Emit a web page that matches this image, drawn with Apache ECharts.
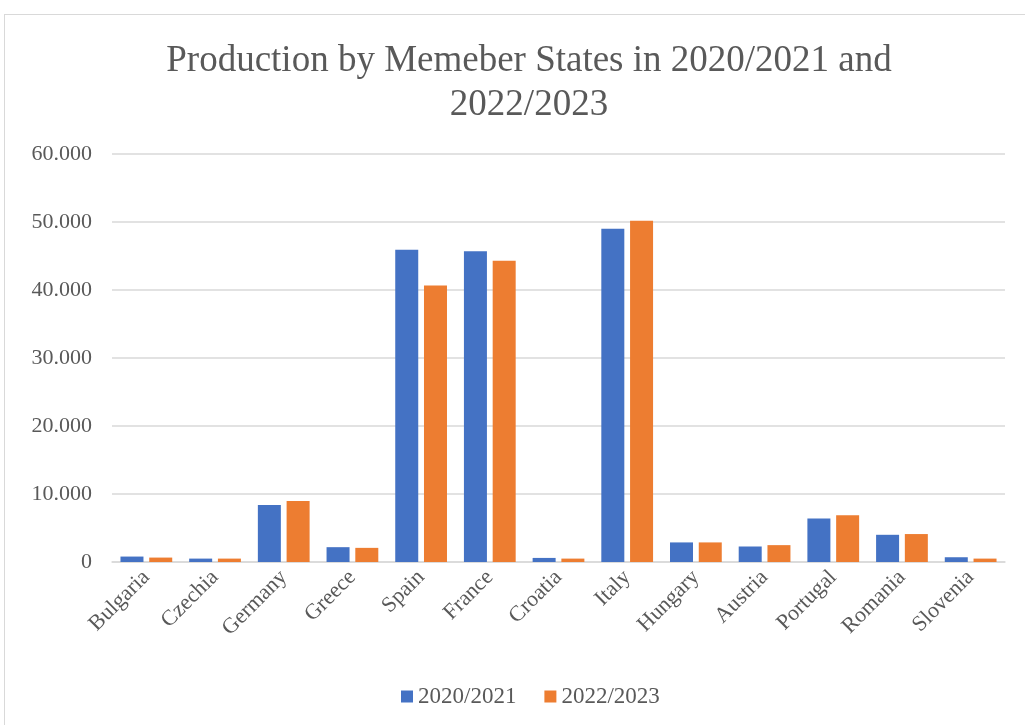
<!DOCTYPE html>
<html>
<head>
<meta charset="utf-8">
<script src="https://cdn.jsdelivr.net/npm/echarts@6/dist/echarts.min.js"></script>
<style>
  html, body { margin: 0; padding: 0; background: #fff; }
  #frame { position: absolute; left: 4px; top: 14px; width: 1030px; height: 720px; border: 1px solid #d9d9d9; box-sizing: border-box; }
  #chart { position: absolute; left: 0; top: 0; width: 1025px; height: 725px; }
</style>
</head>
<body>
<div id="frame"></div>
<div id="chart"></div>
<script>
// Member states shown on the category axis
const countries = ['Bulgaria', 'Czechia', 'Germany', 'Greece', 'Spain', 'France', 'Croatia',
  'Italy', 'Hungary', 'Austria', 'Portugal', 'Romania', 'Slovenia'];
// Production per marketing year
const prod2020 = [800, 500, 8370, 2180, 45920, 45710, 600, 49020, 2880, 2280, 6380, 4000, 700];
const prod2022 = [650, 500, 8960, 2080, 40680, 44290, 500, 50200, 2880, 2480, 6880, 4110, 500];
const seriesNames = ['2020/2021', '2022/2023'];
const titleText = 'Production by Memeber States in 2020/2021 and\n2022/2023';

const font = '"Liberation Serif", "Times New Roman", serif';
const fmt = v => v === 0 ? '0' : String(v).replace(/\B(?=(\d{3})+(?!\d))/g, '.');

const chart = echarts.init(document.getElementById('chart'), null, { renderer: 'canvas' });
chart.setOption({
  backgroundColor: 'transparent',
  animation: false,
  title: {
    text: titleText,
    left: 524,
    top: 34,
    textAlign: 'center',
    textStyle: { fontFamily: font, fontSize: 37, fontWeight: 'normal', color: '#595959', lineHeight: 44 }
  },
  legend: {
    bottom: 12,
    left: 396,
    itemWidth: 12,
    itemHeight: 12,
    itemGap: 28,
    icon: 'rect',
    textStyle: { fontFamily: font, fontSize: 23, color: '#595959' },
    data: seriesNames
  },
  grid: { left: 112, right: 20, top: 154, bottom: 163, containLabel: false },
  xAxis: {
    type: 'category',
    data: countries,
    axisTick: { show: false },
    axisLine: { lineStyle: { color: '#d9d9d9', width: 1.5 } },
    axisLabel: {
      rotate: 45,
      margin: 12,
      fontFamily: font,
      fontSize: 22,
      color: '#595959',
      interval: 0
    }
  },
  yAxis: {
    type: 'value',
    min: 0,
    max: 60000,
    interval: 10000,
    axisLine: { show: false },
    axisTick: { show: false },
    splitLine: { lineStyle: { color: '#d9d9d9', width: 1.5 } },
    axisLabel: {
      margin: 20,
      fontFamily: font,
      fontSize: 22,
      color: '#595959',
      formatter: fmt
    }
  },
  series: [
    {
      name: seriesNames[0],
      type: 'bar',
      data: prod2020,
      barWidth: 23,
      barGap: '25%',
      itemStyle: { color: '#4472c4' }
    },
    {
      name: seriesNames[1],
      type: 'bar',
      data: prod2022,
      barWidth: 23,
      itemStyle: { color: '#ed7d31' }
    }
  ]
});
</script>
</body>
</html>
